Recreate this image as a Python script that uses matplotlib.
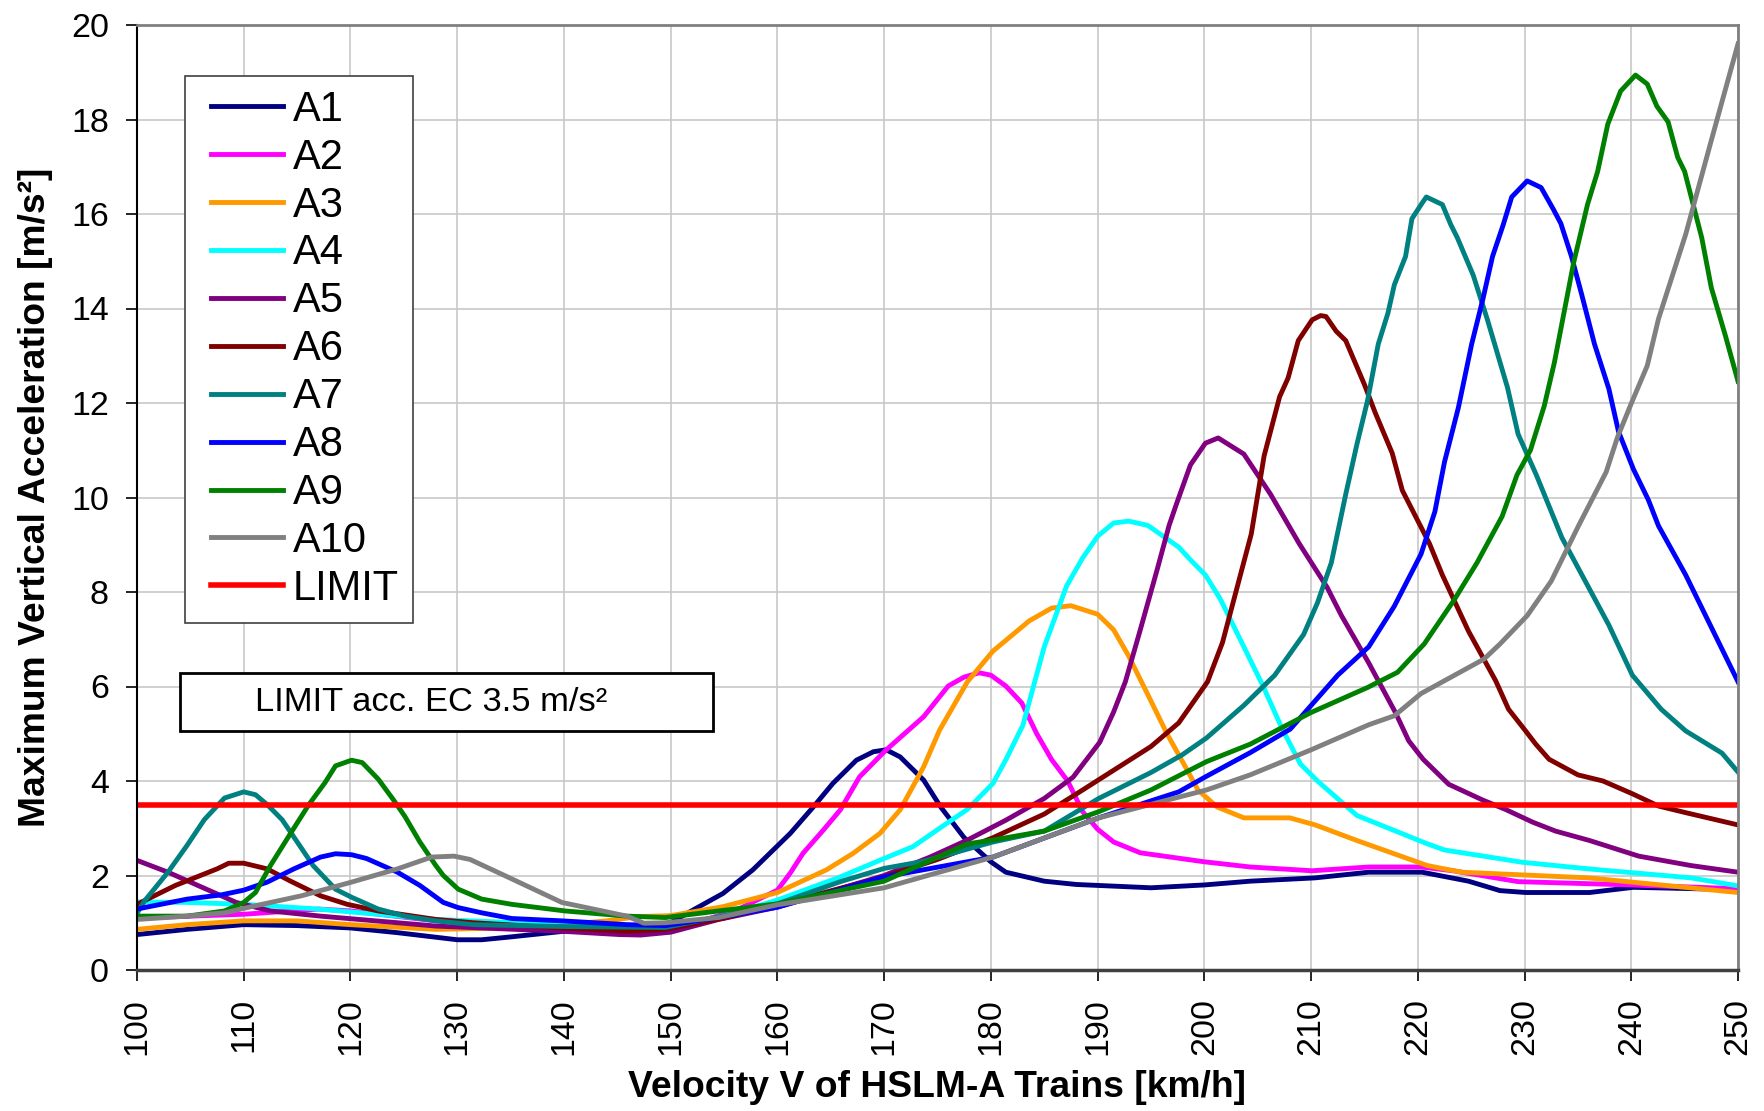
import numpy as np
import matplotlib.pyplot as plt
from matplotlib.patches import Rectangle
from matplotlib.legend_handler import HandlerLine2D

plt.rcParams['font.family'] = ['Liberation Sans', 'DejaVu Sans']

# velocity [km/h] / acceleration [m/s^2], one pair per train
a1_v = [100, 104.7, 110, 115, 120, 124.4, 130, 132.3, 135, 140, 146, 150, 152.1, 154.9, 157.7, 161.2,
        163.4, 165.2, 167.4, 169, 170.2, 171.5, 173.7, 175.3, 177.5, 180, 181.4, 185, 188, 195, 200,
        204.3, 210.4, 215.4, 220.4, 224.75, 227.7, 230.1, 236.1, 240.2, 250]
a1_a = [0.75, 0.86, 0.96, 0.94, 0.89, 0.79, 0.64, 0.64, 0.70, 0.82, 0.89, 1.0, 1.27, 1.62, 2.12, 2.89,
        3.46, 3.95, 4.44, 4.62, 4.66, 4.51, 4.02, 3.45, 2.8, 2.29, 2.07, 1.88, 1.81, 1.74, 1.8,
        1.88, 1.95, 2.07, 2.07, 1.88, 1.68, 1.64, 1.64, 1.75, 1.70]

a2_v = [100, 110, 117, 120, 128, 140, 149.5, 153, 156, 158.1, 160, 161.2, 162.4, 164.3, 165.9, 167.7,
        170.2, 173.7, 176, 177.5, 178.9, 180, 181.4, 182.9, 184.3, 185.7, 187.2, 188.6, 190, 191.5,
        194, 200, 204.3, 210.1, 215.4, 220.3, 223.3, 229.4, 240, 250]
a2_a = [1.1, 1.18, 1.29, 1.25, 1.04, 0.89, 0.82, 1.05, 1.25, 1.48, 1.69, 2.05, 2.47, 2.96, 3.39, 4.09,
        4.66, 5.36, 6.01, 6.2, 6.29, 6.24, 6.01, 5.65, 5.0, 4.45, 4.0, 3.35, 2.98, 2.71,
        2.48, 2.29, 2.18, 2.1, 2.18, 2.18, 2.1, 1.87, 1.8, 1.72]

a3_v = [100, 104.7, 110, 115, 120, 128, 135, 140, 144, 147, 150, 154.9, 160, 164.6, 167.1, 169.6,
        171.5, 173.7, 175.2, 177.8, 180.2, 183.6, 185.7, 187.5, 190, 191.5, 192.9, 194.7, 196.5,
        198.3, 199.4, 201.2, 203.7, 208, 210.4, 214.3, 220.9, 224.1, 236, 250]
a3_a = [0.86, 0.96, 1.04, 1.04, 0.96, 0.86, 0.89, 0.96, 1.04, 1.13, 1.15, 1.34, 1.64, 2.12, 2.47, 2.89,
        3.39, 4.3, 5.08, 6.1, 6.75, 7.39, 7.66, 7.71, 7.53, 7.2, 6.65, 5.83, 5.0,
        4.27, 3.81, 3.45, 3.22, 3.22, 3.07, 2.74, 2.21, 2.07, 1.95, 1.64]

a4_v = [100, 104.7, 110, 117, 128, 140, 149.5, 155, 160, 165.9, 170, 172.7, 175.2, 177.8, 180.2,
        181.4, 183, 185, 187.1, 188.6, 190, 191.5, 192.9, 194.7, 197.6, 198.7, 200.1, 201.5, 203.7,
        205.5, 207.3, 209, 210.6, 214.3, 220.9, 222.5, 229.8, 236, 245.6, 250]
a4_a = [1.44, 1.43, 1.39, 1.29, 1.07, 0.96, 0.89, 1.15, 1.48, 1.97, 2.36, 2.61, 3.0, 3.4, 3.95,
        4.45, 5.18, 6.84, 8.13, 8.72, 9.18, 9.46, 9.5, 9.41, 8.95, 8.68, 8.36, 7.85, 6.84,
        6.01, 5.1, 4.36, 4.0, 3.27, 2.67, 2.54, 2.28, 2.14, 1.95, 1.78]

a5_v = [100, 102.9, 106.5, 109.3, 112.5, 117.2, 128, 139.8, 145.2, 147.2, 150, 154.5, 160, 170, 174.3,
        177.8, 181.4, 185, 187.7, 190.2, 191.5, 192.6, 194, 195.6, 196.7, 197.4, 198.7, 200.1, 201.3,
        203.7, 206.2, 208.9, 211.5, 212.85, 215.4, 217.9, 219.15, 220.5, 222.9, 226.05, 228.2,
        230.75, 232.9, 236.1, 240.7, 245.6, 250]
a5_a = [2.32, 2.07, 1.71, 1.43, 1.25, 1.14, 0.93, 0.82, 0.75, 0.74, 0.8, 1.07, 1.33, 2.0, 2.39,
        2.75, 3.17, 3.63, 4.08, 4.82, 5.46, 6.1, 7.2, 8.49, 9.41, 9.87, 10.69, 11.15, 11.26,
        10.92, 10.07, 9.02, 8.1, 7.5, 6.5, 5.45, 4.85, 4.46, 3.93, 3.6, 3.4,
        3.13, 2.94, 2.74, 2.41, 2.21, 2.07]

a6_v = [100, 103.6, 107.5, 108.6, 110, 112.2, 114.3, 117.2, 119.7, 122.6, 128, 131.5, 139.8, 145.9,
        149.5, 155, 160, 170, 175, 180.2, 185, 188.6, 195, 197.6, 200.3, 201.7, 204.4, 205.6, 207.05,
        207.85, 208.8, 210.1, 210.9, 211.4, 212.35, 213.25, 215, 216, 217.6, 218.55, 221.1, 222.3,
        224.75, 227.3, 228.5, 230.1, 231.05, 232.3, 235, 237.35, 240.1, 242.55, 245.1, 250]
a6_a = [1.39, 1.79, 2.14, 2.26, 2.26, 2.14, 1.89, 1.57, 1.39, 1.25, 1.07, 1.0, 0.89, 0.82,
        0.86, 1.1, 1.38, 1.97, 2.34, 2.8, 3.3, 3.81, 4.73, 5.23, 6.1, 6.93, 9.23, 10.88, 12.13,
        12.53, 13.32, 13.76, 13.85, 13.83, 13.52, 13.32, 12.39, 11.8, 10.94, 10.15, 9.02, 8.36,
        7.17, 6.12, 5.52, 5.06, 4.78, 4.46, 4.13, 4.0, 3.73, 3.47, 3.33, 3.07]

a7_v = [100, 100.7, 102.9, 104.7, 106.3, 108.2, 110, 111.1, 112.2, 113.6, 115.1, 116.5, 118.6, 120.1,
        122.6, 125.1, 128, 131.5, 140, 149.5, 155, 160, 165.9, 170, 173.7, 180.2, 185, 190.1, 195,
        197.9, 200.2, 203.7, 206.6, 209.3, 210.6, 211.9, 213.25, 214.3, 215.3, 216.3, 217.2, 217.8,
        218.85, 219.45, 220.4, 220.8, 222.3, 223.1, 223.7, 225.2, 226.5, 228.4, 229.4, 231.1,
        233.5, 237.9, 240.1, 242.8, 245.1, 248.5, 250]
a7_a = [1.2, 1.46, 2.07, 2.64, 3.18, 3.64, 3.77, 3.71, 3.5, 3.18, 2.68, 2.21, 1.71, 1.54,
        1.29, 1.14, 1.04, 0.96, 0.92, 0.9, 1.15, 1.4, 1.87, 2.15, 2.3, 2.71, 2.94, 3.63, 4.18,
        4.55, 4.91, 5.6, 6.24, 7.1, 7.77, 8.62, 10.07, 11.13, 12.06, 13.25, 13.9, 14.5,
        15.1, 15.9, 16.23, 16.36, 16.2, 15.77, 15.5, 14.7, 13.78, 12.33, 11.34, 10.48,
        9.15, 7.3, 6.24, 5.52, 5.06, 4.59, 4.19]

a8_v = [100, 104.7, 107.9, 110, 112.2, 114.7, 117.2, 118.6, 120.1, 121.5, 124.4, 126.5, 128.7, 130.1,
        132.3, 135.1, 139.8, 145.9, 149.5, 154.5, 160, 170, 180.2, 190.1, 197.6, 200.2, 204.3, 208.06,
        212.5, 215.4, 217.8, 220.3, 221.6, 222.5, 223.8, 225.05, 226.1, 227, 228, 228.8, 230.25,
        231.55, 232.7, 233.4, 234.4, 235.35, 236.55, 237.9, 238.8, 240.2, 241.6, 242.55, 245.1,
        247.55, 250]
a8_a = [1.29, 1.5, 1.59, 1.69, 1.86, 2.14, 2.39, 2.46, 2.44, 2.36, 2.07, 1.79, 1.43, 1.32,
        1.21, 1.09, 1.04, 0.96, 0.94, 1.11, 1.33, 1.97, 2.39, 3.22, 3.77, 4.1, 4.6, 5.1,
        6.24, 6.84, 7.7, 8.8, 9.7, 10.75, 11.9, 13.25, 14.2, 15.1, 15.77, 16.36, 16.7,
        16.56, 16.1, 15.8, 15.1, 14.3, 13.25, 12.3, 11.4, 10.6, 9.95, 9.4, 8.36,
        7.23, 6.1]

a9_v = [100, 104.7, 108.2, 110, 111.1, 112.5, 114.3, 116.1, 117.6, 118.6, 120.1, 121.1, 122.6, 124,
        125.1, 126.5, 128, 128.7, 130.1, 132.3, 135.1, 140.1, 145.9, 149.5, 154.5, 160, 170, 177.8,
        180.2, 185, 190.1, 195, 200.2, 204.3, 210, 215.3, 218.1, 220.6, 223.4, 225.55, 227.9,
        229.3, 230.55, 231.85, 232.8, 234.6, 235.9, 236.85, 237.8, 239.0, 240.4, 241.5, 242.4,
        243.45, 244.35, 245, 246.6, 247.5, 248.85, 250]
a9_a = [1.14, 1.14, 1.25, 1.43, 1.64, 2.21, 2.86, 3.5, 3.96, 4.32, 4.44, 4.39, 4.04, 3.61,
        3.25, 2.71, 2.21, 2.0, 1.71, 1.5, 1.39, 1.25, 1.14, 1.11, 1.25, 1.4, 1.88, 2.67,
        2.75, 2.94, 3.35, 3.81, 4.41, 4.78, 5.45, 5.98, 6.3, 6.9, 7.83, 8.62, 9.6,
        10.48, 11.0, 11.94, 12.86, 14.97, 16.2, 16.9, 17.9, 18.6, 18.94, 18.75, 18.28,
        17.95, 17.2, 16.9, 15.5, 14.44, 13.4, 12.46]

a10_v = [100, 104.7, 108.2, 111.1, 115.4, 120.1, 124.4, 127.6, 129.7, 131.2, 135.1, 139.8, 145.9,
         147.5, 149.5, 154.5, 160, 170, 180.2, 190.1, 200.2, 204.3, 210, 215.4, 217.8, 220.3, 226.2,
         227.7, 230.25, 232.5, 235.1, 237.65, 238.7, 240, 241.5, 242.55, 245.1, 247.55, 250]
a10_a = [1.07, 1.14, 1.21, 1.36, 1.57, 1.86, 2.14, 2.39, 2.41, 2.34, 1.93, 1.43, 1.14,
         0.99, 1.0, 1.11, 1.38, 1.74, 2.39, 3.22, 3.81, 4.13, 4.66, 5.19, 5.38, 5.85, 6.58,
         6.9, 7.5, 8.23, 9.42, 10.54, 11.27, 11.99, 12.79, 13.78, 15.57, 17.6, 19.6]

limit_v = [100, 250]
limit_a = [3.5, 3.5]

names = ['A1', 'A2', 'A3', 'A4', 'A5', 'A6', 'A7', 'A8', 'A9', 'A10']
colors = ['#000080', '#FF00FF', '#FF9900', '#00FFFF', '#800080',
          '#800000', '#008080', '#0000FF', '#008000', '#808080']
series = [(a1_v, a1_a), (a2_v, a2_a), (a3_v, a3_a), (a4_v, a4_a), (a5_v, a5_a),
          (a6_v, a6_a), (a7_v, a7_a), (a8_v, a8_a), (a9_v, a9_a), (a10_v, a10_a)]

fig = plt.figure(figsize=(17.64, 11.11), dpi=100)
ax = fig.add_axes([137 / 1764, 1 - 970 / 1111, (1738 - 137) / 1764, (970 - 25) / 1111])

for (v, a), name, c in zip(series, names, colors):
    ax.plot(v, a, color=c, lw=3.5, label=name, solid_joinstyle='round')
ax.plot(limit_v, limit_a, color='#FF0000', lw=4, label='LIMIT')

ax.set_xlim(100, 250)
ax.set_ylim(0, 20)
ax.set_xticks(np.arange(100, 251, 10))
ax.set_yticks(np.arange(0, 21, 2))
ax.grid(True, color='#c8c8c8', lw=1.2)
ax.set_axisbelow(True)
ax.tick_params(axis='both', direction='out', length=7.7, width=1.2, labelsize=24.5, pad=12.5)
ax.tick_params(axis='x', labelrotation=90)

for s in ['top', 'right']:
    ax.spines[s].set_color('#808080')
    ax.spines[s].set_linewidth(2)
ax.spines['left'].set_color('black')
ax.spines['left'].set_linewidth(1.5)
ax.spines['bottom'].set_color('#404040')
ax.spines['bottom'].set_linewidth(2.5)

ax.set_xlabel('Velocity V of HSLM-A Trains [km/h]', fontsize=26.8, fontweight='bold', labelpad=11)
ax.set_ylabel('Maximum Vertical Acceleration [m/s²]', fontsize=26.8, fontweight='bold', labelpad=13)

# legend: the handle sits a bit in from the frame, as in the original
leg = ax.legend(loc='upper left', bbox_to_anchor=(185 / 1764, 1 - 76 / 1111),
                bbox_transform=fig.transFigure, borderaxespad=0, fontsize=30,
                labelspacing=0.19, handlelength=2.02, handletextpad=0.24,
                borderpad=0.33, fancybox=False, framealpha=1,
                handler_map={plt.Line2D: HandlerLine2D(xpad=0.29)})
leg.get_frame().set_edgecolor('#404040')
leg.get_frame().set_linewidth(1.2)

ax.add_patch(Rectangle((104.0, 5.05), 49.97, 1.24, facecolor='white', edgecolor='black',
                       lw=2, zorder=5))
ax.text(127.6, 5.67, 'LIMIT acc. EC 3.5 m/s²', fontsize=24.8, ha='center', va='center', zorder=6)

fig.savefig('out.png', dpi=100)
